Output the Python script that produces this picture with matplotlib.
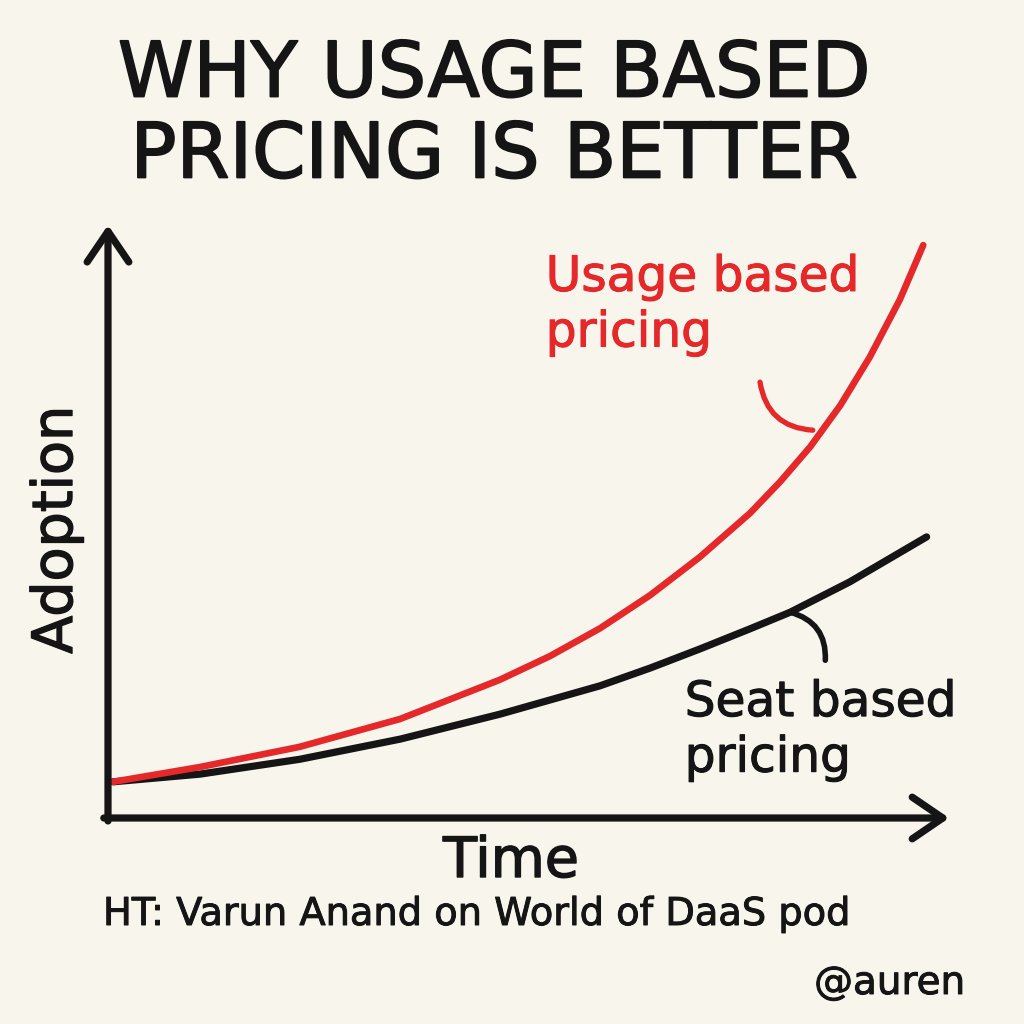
import matplotlib
matplotlib.use("Agg")
import matplotlib.pyplot as plt
import matplotlib.patheffects as pe

# data (time vs adoption, arbitrary units 0..100)
usage_x = [0.6, 11.0, 22.9, 34.9, 46.8, 52.8, 58.8, 64.8, 70.7, 76.7, 80.3, 83.9, 87.5, 91.0, 94.6, 97.4]
usage_y = [6.1, 8.6, 12.0, 16.7, 23.3, 27.3, 32.0, 37.6, 44.0, 51.4, 56.7, 62.6, 69.6, 77.7, 87.4, 96.6]
seat_x = [0.6, 11.0, 22.9, 34.9, 46.8, 58.8, 64.8, 70.7, 76.7, 81.5, 88.6, 97.8]
seat_y = [6.1, 7.4, 9.9, 13.3, 17.5, 22.3, 25.3, 28.5, 31.9, 34.7, 39.8, 47.4]

title = "WHY USAGE BASED\nPRICING IS BETTER"
usage_label = "Usage based\npricing"
seat_label = "Seat based\npricing"
credit = "HT: Varun Anand on World of DaaS pod"
handle = "@auren"

BG = "#f8f5ec"
RED = "#e5282a"
INK = "#151515"
FONT = "DejaVu Sans"


def marker_pen(color, w=0.8):
    # thicken glyph strokes a little so text looks hand-inked
    return [pe.withStroke(linewidth=w, foreground=color)]


fig = plt.figure(figsize=(10.24, 10.24), dpi=100, facecolor=BG)
ax = fig.add_axes([108 / 1024, 1 - 818 / 1024, (945 - 108) / 1024, (818 - 225) / 1024])
ax.set_facecolor(BG)
ax.set_xlim(0, 100)
ax.set_ylim(0, 100)
ax.axis("off")

# axes with open arrowheads
arrow = dict(arrowstyle="->,head_length=1.1,head_width=0.75", lw=5.2, color=INK,
             shrinkA=0, shrinkB=0, mutation_scale=20, capstyle="round", joinstyle="round")
ax.annotate("", xy=(0, 1.0), xytext=(0, -0.005), xycoords="axes fraction", arrowprops=arrow)
ax.annotate("", xy=(1.005, 0), xytext=(-0.005, 0), xycoords="axes fraction", arrowprops=arrow)

ax.plot(seat_x, seat_y, color=INK, lw=5.2, solid_capstyle="round", solid_joinstyle="round")
ax.plot(usage_x, usage_y, color=RED, lw=4.8, solid_capstyle="round", solid_joinstyle="round")

# curved pointers from labels to curves
ax.annotate("", xy=(84.2, 65.4), xytext=(77.9, 73.5), xycoords="data",
            arrowprops=dict(arrowstyle="-", lw=3.8, color=RED, capstyle="round",
                            connectionstyle="arc3,rad=0.4", shrinkA=0, shrinkB=0))
ax.annotate("", xy=(81.5, 34.7), xytext=(85.7, 26.6), xycoords="data",
            arrowprops=dict(arrowstyle="-", lw=4, color=INK, capstyle="round",
                            connectionstyle="arc3,rad=0.4", shrinkA=0, shrinkB=0))

ax.text(52.3, 95.3, usage_label, color=RED, fontsize=35, family=FONT,
        ha="left", va="top", linespacing=1.2, path_effects=marker_pen(RED))
ax.text(68.9, 23.6, seat_label, color=INK, fontsize=35, family=FONT,
        ha="left", va="top", linespacing=1.2, path_effects=marker_pen(INK))

fig.text(494 / 1024, 1 - 116 / 1024, title, color=INK, fontsize=55, family=FONT,
         ha="center", va="center", linespacing=1.12, path_effects=marker_pen(INK, 1.3))
fig.text(57 / 1024, 1 - 530 / 1024, "Adoption", color=INK, fontsize=40, family=FONT,
         ha="center", va="center", rotation=90, path_effects=marker_pen(INK, 1.0))
fig.text(511 / 1024, 1 - 862 / 1024, "Time", color=INK, fontsize=40, family=FONT,
         ha="center", va="center", path_effects=marker_pen(INK, 1.0))
fig.text(103 / 1024, 1 - 915 / 1024, credit, color=INK, fontsize=27.6, family=FONT,
         ha="left", va="center", path_effects=marker_pen(INK, 0.7))
fig.text(965 / 1024, 1 - 983 / 1024, handle, color=INK, fontsize=28, family=FONT,
         ha="right", va="center", path_effects=marker_pen(INK, 0.7))

fig.savefig("out.png", dpi=100, facecolor=BG)
